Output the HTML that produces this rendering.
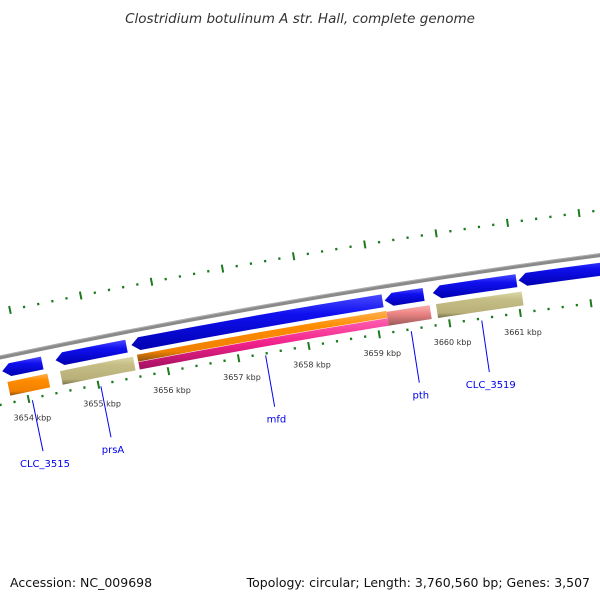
<!DOCTYPE html>
<html><head><meta charset="utf-8"><style>
html,body{margin:0;padding:0;background:#fff;}
svg{display:block;font-family:"DejaVu Sans","Liberation Sans",sans-serif;}
</style></head><body>
<svg id="map" width="600" height="600" viewBox="0 0 600 600">
<defs>
<linearGradient id="gBlue" x1="0" y1="0" x2="0" y2="1"><stop offset="0" stop-color="#4a4aff"/><stop offset="0.35" stop-color="#1010f0"/><stop offset="1" stop-color="#0000b0"/></linearGradient>
<linearGradient id="gOrange" x1="0" y1="0" x2="0" y2="1"><stop offset="0" stop-color="#ffb050"/><stop offset="0.3" stop-color="#ff8c00"/><stop offset="0.8" stop-color="#f08000"/><stop offset="1" stop-color="#8a5010"/></linearGradient>
<linearGradient id="gKhaki" x1="0" y1="0" x2="0" y2="1"><stop offset="0" stop-color="#dcd8a8"/><stop offset="0.3" stop-color="#c4bd85"/><stop offset="0.8" stop-color="#b8b078"/><stop offset="1" stop-color="#77704a"/></linearGradient>
<linearGradient id="gPink" x1="0" y1="0" x2="0" y2="1"><stop offset="0" stop-color="#ff60b0"/><stop offset="0.5" stop-color="#f0208a"/><stop offset="1" stop-color="#a01060"/></linearGradient>
<linearGradient id="gSalmon" x1="0" y1="0" x2="0" y2="1"><stop offset="0" stop-color="#f8b0b0"/><stop offset="0.4" stop-color="#ee8585"/><stop offset="1" stop-color="#9a5858"/></linearGradient>
</defs>
<text x="300" y="23" text-anchor="middle" font-style="italic" font-size="13.5" fill="#333">Clostridium botulinum A str. Hall, complete genome</text>
<g id="layer"></g>
<text x="10" y="587" font-size="12.5" fill="#111">Accession: NC_009698</text>
<text x="590" y="587" text-anchor="end" font-size="12.5" fill="#111">Topology: circular; Length: 3,760,560 bp; Genes: 3,507</text>
</svg>
<script>
// data (kbp)
const blueStarts = [3653.72, 3654.48, 3655.56, 3659.15, 3659.83, 3661.04];
const blueEnds   = [3654.29, 3655.49, 3659.12, 3659.70, 3661.01, 3662.60];
const track2Starts = [3653.76, 3654.51, 3655.61, 3659.15, 3659.85];
const track2Ends   = [3654.33, 3655.55, 3659.15, 3659.76, 3661.06];
const track2Types  = ["orange", "khaki", "orange-pink", "salmon", "khaki"];
const tickLabels = [3654, 3655, 3656, 3657, 3658, 3659, 3660, 3661];
const geneNames = ["CLC_3515", "prsA", "mfd", "pth", "CLC_3519"];
const geneMids  = [3654.05, 3655.03, 3657.38, 3659.45, 3660.45];

const CX = 1610, CY = 7990;
const A0 = -0.2054, K0 = 3654, RATE = 0.0092;
function ang(k){ return A0 + (k - K0) * RATE; }
function pt(k, r){ const a = ang(k); return [CX + r*Math.sin(a), CY - r*Math.cos(a)]; }
const NS = "http://www.w3.org/2000/svg";
const layer = document.getElementById('layer');
function mk(tag, attrs){ const e = document.createElementNS(NS, tag); for (const k in attrs) e.setAttribute(k, attrs[k]); layer.appendChild(e); return e; }
function f(p){ return p[0].toFixed(2)+","+p[1].toFixed(2); }
function band(k1, k2, r1, r2){ // r1 inner, r2 outer
  const a=pt(k1,r2), b=pt(k2,r2), c=pt(k2,r1), d=pt(k1,r1);
  return "M"+f(a)+" A"+r2+","+r2+" 0 0 1 "+f(b)+" L"+f(c)+" A"+r1+","+r1+" 0 0 0 "+f(d)+"Z";
}
function revArrow(k1, k2, r1, r2){ // points toward k1
  const head = 0.11, rm=(r1+r2)/2;
  const kh = Math.min(k1+head, k2);
  const a=pt(kh,r2), b=pt(k2,r2), c=pt(k2,r1), d=pt(kh,r1), tip=pt(k1,rm);
  return "M"+f(a)+" A"+r2+","+r2+" 0 0 1 "+f(b)+" L"+f(c)+" A"+r1+","+r1+" 0 0 0 "+f(d)+" L"+f(tip)+"Z";
}

// backbone
let p = mk('path', {d: "M"+f(pt(3653.5,7800.5))+" A7800.5,7800.5 0 0 1 "+f(pt(3662.8,7800.5)), fill:"none", stroke:"#8a8a8a", "stroke-width":"4"});


p = mk('path', {d: "M"+f(pt(3653.5,7802))+" A7802,7802 0 0 1 "+f(pt(3662.8,7802)), fill:"none", stroke:"#b0b0b0", "stroke-width":"1"});



// tick rings
function ticks(r, name){
  for (let i = Math.ceil((3653.4)*5); i <= 3663*5; i++){
    const k = i/5, major = (i % 5 === 0);
    const len = major ? 4 : 1.2;
    const t = mk('line', {});
    const a = pt(k, r-len), b = pt(k, r+len);
    t.setAttribute('x1', a[0]); t.setAttribute('y1', a[1]); t.setAttribute('x2', b[0]); t.setAttribute('y2', b[1]);
    t.setAttribute('stroke', '#1e7a1e'); t.setAttribute('stroke-width', major ? '2' : '2.2');
    
    
  }
}
ticks(7845, 'outer');
ticks(7754, 'inner');

// blue genes
for (let i=0;i<blueStarts.length;i++){
  const g = mk('path', {d: revArrow(blueStarts[i], blueEnds[i], 7780, 7793), fill:"url(#gBlue)"});
  
  
}
// track 2
const fills = {orange:"url(#gOrange)", khaki:"url(#gKhaki)", salmon:"url(#gSalmon)"};
for (let i=0;i<track2Starts.length;i++){
  const t = track2Types[i];
  if (t === "orange-pink"){
    const g1 = mk('path', {d: band(track2Starts[i], track2Ends[i], 7769, 7776), fill:"url(#gOrange)"});
    
    
    const g2 = mk('path', {d: band(track2Starts[i], track2Ends[i], 7761, 7768.5), fill:"url(#gPink)"});
    
    
  } else {
    const g = mk('path', {d: band(track2Starts[i], track2Ends[i], 7761, 7775), fill: fills[t]});
    
    
  }
}
// tick labels
for (const k of tickLabels){
  const q = pt(k, 7735);
  const t = mk('text', {x:q[0].toFixed(1), y:(q[1]+3).toFixed(1), "text-anchor":"middle", "font-size":"8", fill:"#333"});
  t.textContent = k + " kbp";
  
  
}
// gene labels
for (let i=0;i<geneNames.length;i++){
  const a = pt(geneMids[i], 7752), b = pt(geneMids[i], 7700), c = pt(geneMids[i], 7690);
  const l = mk('line', {x1:a[0], y1:a[1], x2:b[0], y2:b[1], stroke:"#0000ee", "stroke-width":"1"});
  
  
  const t = mk('text', {x:c[0].toFixed(1), y:(c[1]+6).toFixed(1), "text-anchor":"middle", "font-size":"10", fill:"#0000ee"});
  t.textContent = geneNames[i];
  
  
}
</script>
</body></html>
